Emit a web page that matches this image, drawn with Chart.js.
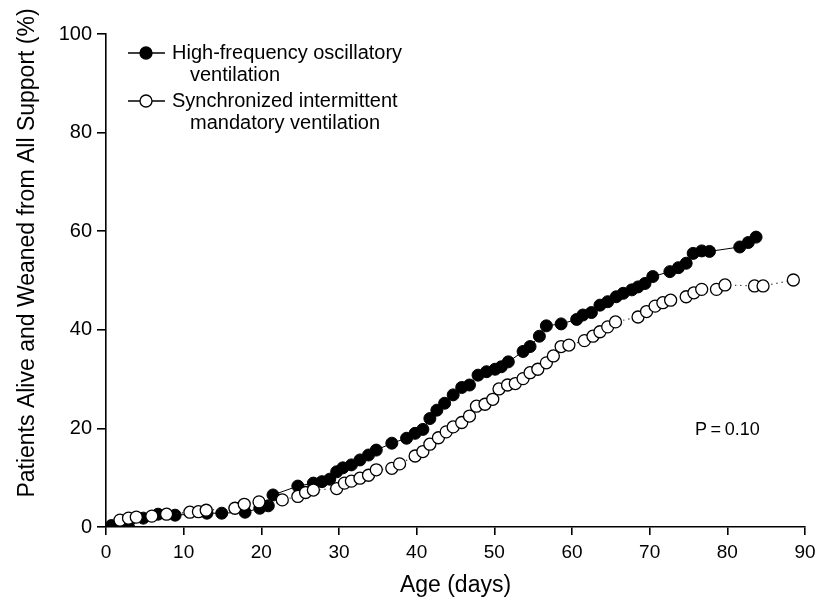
<!DOCTYPE html>
<html>
<head>
<meta charset="utf-8">
<script src="https://cdn.jsdelivr.net/npm/chart.js@4"></script>
<style>
  html, body { margin: 0; padding: 0; background: #fff; }
  #wrap { width: 815px; height: 599px; }
</style>
</head>
<body>
<div id="wrap"><canvas id="chart" width="815" height="599"></canvas></div>
<script>
// high-frequency oscillatory ventilation (filled circles)
const hfovDays = [0.7, 2.9, 4.8, 6.7, 8.9, 13.0, 14.9, 17.9, 19.8, 20.9, 21.5, 24.7, 26.7, 27.8, 28.8,
  29.7, 30.5, 31.6, 32.7, 33.8, 34.8, 36.8, 38.7, 39.8, 40.8, 41.7, 42.6, 43.6, 44.7, 45.8,
  46.8, 47.9, 49.0, 50.1, 50.9, 51.8, 53.7, 54.6, 55.8, 56.7, 58.6, 60.6, 61.4, 62.5, 63.6,
  64.6, 65.7, 66.6, 67.7, 68.5, 69.4, 70.4, 72.6, 73.7, 74.7, 75.6, 76.7, 77.7, 81.6, 82.7, 83.7];
const hfovPct = [0.3, 0.0, 1.8, 2.6, 2.4, 2.8, 2.8, 3.0, 3.8, 4.3, 6.5, 8.3, 8.9, 9.2, 9.7,
  11.2, 12.0, 12.6, 13.6, 14.6, 15.6, 17.0, 18.0, 19.0, 19.8, 22.0, 23.7, 25.1, 26.8, 28.3,
  28.8, 30.8, 31.5, 32.0, 32.5, 33.5, 35.6, 36.6, 38.7, 40.8, 41.2, 42.1, 43.0, 43.5, 45.0,
  45.7, 46.7, 47.4, 48.1, 48.7, 49.4, 50.8, 51.8, 52.6, 53.5, 55.5, 56.0, 55.9, 56.8, 57.7, 58.8];

// synchronized intermittent mandatory ventilation (open circles)
const simvDays = [1.8, 2.9, 3.9, 5.9, 7.8, 10.8, 11.9, 12.9, 16.6, 17.8, 19.7, 22.7, 24.7, 25.7, 26.7,
  29.7, 30.7, 31.6, 32.7, 33.8, 34.8, 36.8, 37.8, 39.8, 40.8, 41.7, 42.8, 43.8, 44.7, 45.8,
  46.8, 47.7, 48.8, 49.8, 50.6, 51.7, 52.7, 53.7, 54.6, 55.6, 56.7, 57.6, 58.6, 59.6, 61.6,
  62.7, 63.6, 64.6, 65.6, 68.5, 69.6, 70.7, 71.7, 72.7, 74.7, 75.7, 76.7, 78.6, 79.7, 83.5,
  84.6, 88.5];
const simvPct = [1.4, 1.8, 2.0, 2.2, 2.6, 3.0, 3.1, 3.4, 3.8, 4.6, 5.1, 5.5, 6.2, 7.0, 7.5,
  7.8, 8.9, 9.3, 9.9, 10.5, 11.6, 11.9, 12.8, 14.4, 15.3, 16.8, 18.1, 19.3, 20.3, 21.2,
  22.5, 24.5, 24.9, 25.9, 28.0, 28.8, 29.1, 30.1, 31.3, 32.0, 33.3, 34.7, 36.6, 36.9, 37.8,
  38.7, 39.6, 40.6, 41.6, 42.6, 43.7, 44.8, 45.5, 46.0, 46.7, 47.5, 48.2, 48.2, 49.1, 48.9,
  48.9, 50.1];

const xTicks = [0, 10, 20, 30, 40, 50, 60, 70, 80, 90];
const yTicks = [0, 20, 40, 60, 80, 100];

const seriesLabels = [
  ['High-frequency oscillatory', 'ventilation'],
  ['Synchronized intermittent', 'mandatory ventilation']
];
const xTitle = 'Age (days)';
const yTitle = 'Patients Alive and Weaned from All Support (%)';
const pValueText = 'P\u2009=\u20090.10';

const FONT = '"Liberation Sans", Arial, Helvetica, sans-serif';

const toPoints = (xs, ys) => xs.map((x, i) => ({ x: x, y: ys[i] }));

// legend with two-line labels, y title (sits higher than the axis centre) and P value
const notesPlugin = {
  id: 'notes',
  afterDraw(chart) {
    const ctx = chart.ctx;
    ctx.save();
    ctx.fillStyle = '#000';
    ctx.textBaseline = 'middle';
    ctx.textAlign = 'left';
    ctx.font = '20px ' + FONT;

    const rows = [
      { y: 53, filled: true },
      { y: 101, filled: false }
    ];
    rows.forEach((r, i) => {
      ctx.strokeStyle = '#000';
      ctx.lineWidth = 1.3;
      ctx.beginPath();
      ctx.moveTo(128, r.y);
      ctx.lineTo(165, r.y);
      ctx.stroke();
      ctx.beginPath();
      ctx.arc(146, r.y, 6, 0, Math.PI * 2);
      ctx.fillStyle = r.filled ? '#000' : '#fff';
      ctx.fill();
      ctx.stroke();
      ctx.fillStyle = '#000';
      ctx.fillText(seriesLabels[i][0], 172, r.y);
      ctx.fillText(seriesLabels[i][1], 190, r.y + 22);
    });

    ctx.font = '18px ' + FONT;
    ctx.fillText(pValueText, 695, 430);

    ctx.translate(34, 253);
    ctx.rotate(-Math.PI / 2);
    ctx.textAlign = 'center';
    ctx.textBaseline = 'alphabetic';
    ctx.font = '23px ' + FONT;
    ctx.fillText(yTitle, 0, 0);
    ctx.restore();
  }
};

new Chart(document.getElementById('chart'), {
  type: 'line',
  data: {
    datasets: [
      {
        label: seriesLabels[0].join(' '),
        data: toPoints(hfovDays, hfovPct),
        borderColor: '#000',
        borderWidth: 1,
        backgroundColor: '#000',
        pointBackgroundColor: '#000',
        pointBorderColor: '#000',
        pointRadius: 6,
        pointBorderWidth: 1,
        tension: 0,
        order: 2
      },
      {
        label: seriesLabels[1].join(' '),
        data: toPoints(simvDays, simvPct),
        borderColor: '#222',
        borderWidth: 1.2,
        borderDash: [1.2, 4],
        backgroundColor: '#fff',
        pointBackgroundColor: '#fff',
        pointBorderColor: '#000',
        pointRadius: 6,
        pointBorderWidth: 1.3,
        tension: 0,
        order: 1
      }
    ]
  },
  options: {
    responsive: false,
    animation: false,
    layout: { padding: { top: 34, right: 10, left: 0, bottom: 0 } },
    plugins: {
      legend: { display: false },
      tooltip: { enabled: false }
    },
    scales: {
      x: {
        type: 'linear',
        min: 0,
        max: 90,
        afterBuildTicks: s => { s.ticks = xTicks.map(v => ({ value: v })); },
        border: { display: true, color: '#000', width: 1.6 },
        grid: { drawOnChartArea: false, drawTicks: true, tickLength: 8, color: '#000', lineWidth: 1.6 },
        ticks: { color: '#000', font: { family: FONT, size: 19 }, padding: 6, maxRotation: 0 },
        title: { display: true, text: xTitle, color: '#000', font: { family: FONT, size: 23 }, padding: { top: 4, bottom: 0 } },
        afterFit: s => { s.height = 72; s.paddingLeft = 0; s.paddingRight = 0; }
      },
      y: {
        min: 0,
        max: 100,
        afterBuildTicks: s => { s.ticks = yTicks.map(v => ({ value: v })); },
        border: { display: true, color: '#000', width: 1.6 },
        grid: { drawOnChartArea: false, drawTicks: true, tickLength: 9, color: '#000', lineWidth: 1.6 },
        ticks: { color: '#000', font: { family: FONT, size: 20 }, padding: 5 },
        afterFit: s => { s.width = 106; }
      }
    }
  },
  plugins: [notesPlugin]
});
</script>
</body>
</html>
